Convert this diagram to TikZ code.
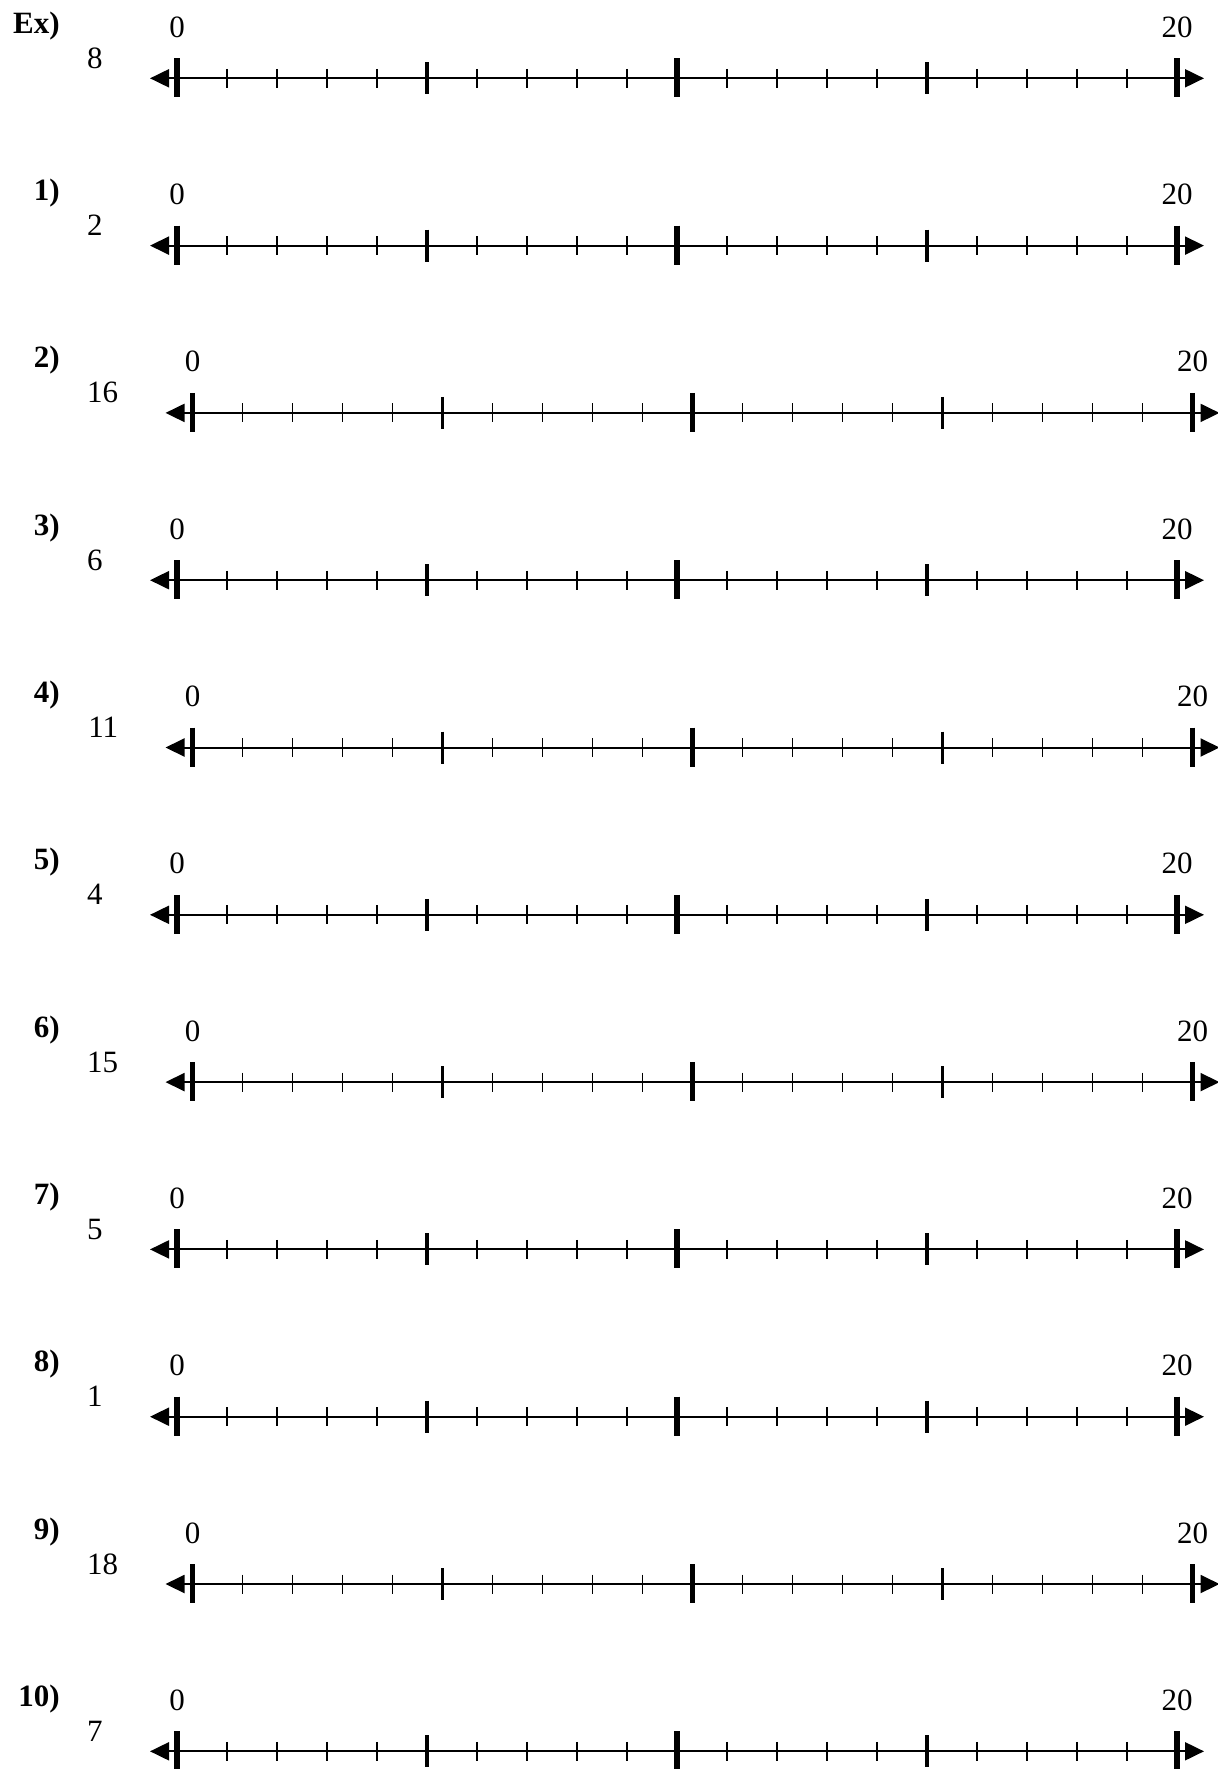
\documentclass[tikz,border=0pt]{standalone}
\usepackage{fontspec}
\setmainfont{Liberation Serif}
\usetikzlibrary{arrows.meta}
\tikzset{
  axisline/.style={line width=1pt, {Triangle[length=9.5pt,width=9pt]}-{Triangle[length=9.5pt,width=9pt]}},
  minortick/.style={line width=0.9pt},
  midtick/.style={line width=1.6pt},
  majortick/.style={line width=2.8pt},
  lbl/.style={inner sep=0pt, font=\fontsize{15.5}{18}\selectfont}
}
\begin{document}
\begin{tikzpicture}[x=0.5pt,y=-0.5pt]
\useasboundingbox (0,0) rectangle (1217,1769);
\foreach \name/\num/\s [count=\i from 0] in {Ex/8/0, 1/2/0, 2/16/15.5, 3/6/0, 4/11/15.5, 5/4/0, 6/15/15.5, 7/5/0, 8/1/0, 9/18/15.5, 10/7/0} {
  \pgfmathsetmacro{\y}{78.3+167.3*\i}
  \pgfmathsetmacro{\xa}{177+\s}
  \coordinate (lo\i) at (\xa-27,\y);
  \coordinate (hi\i) at (\xa+1027,\y);
  \draw[axisline] (lo\i) -- (hi\i);
  \foreach \k in {1,2,3,4,6,7,8,9,11,12,13,14,16,17,18,19}
    \draw[minortick] (\xa+50*\k,\y-9.5) -- ++(0,19);
  \foreach \k in {5,15}
    \draw[midtick] (\xa+50*\k,\y-16) -- ++(0,32);
  \foreach \k in {0,10,20}
    \draw[majortick] (\xa+50*\k,\y-20) -- ++(0,39);
  \node[lbl, anchor=base east] (tag\i) at (60,\y-45) {\textbf{\name)}};
  \node[lbl, anchor=base east] (num\i) at (103+\s,\y-10) {\num};
  \node[lbl, anchor=base] (zero\i) at (\xa,\y-41) {0};
  \node[lbl, anchor=base] (twenty\i) at (\xa+1000,\y-41) {20};
}
\end{tikzpicture}
\end{document}
